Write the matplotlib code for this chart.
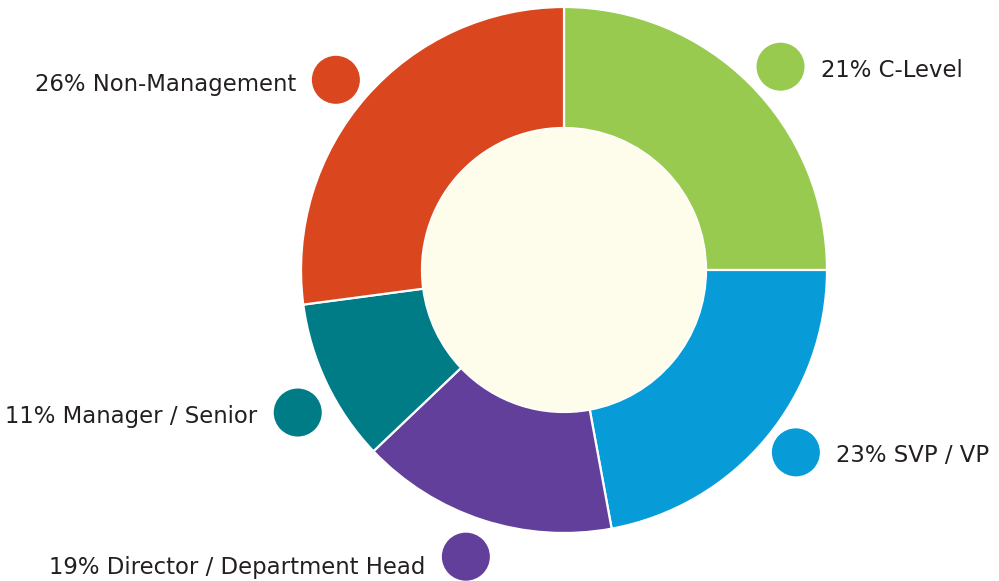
import numpy as np
import matplotlib
matplotlib.use('Agg')
import matplotlib.pyplot as plt
from matplotlib.patches import Circle

# slices, clockwise from 12 o'clock
groups = ['C-Level', 'SVP / VP', 'Director / Department Head', 'Manager / Senior', 'Non-Management']
label_pct = [21, 23, 19, 11, 26]
# share of the ring each slice takes in the drawing
slice_share = [25.0, 22.1, 15.8, 10.0, 27.1]
colors = ['#97ca4f', '#079bd8', '#623f9a', '#007c87', '#da461e']

W, H = 999, 581
cx, cy = 564, H - 270
R, r_in = 263, 142
dot_r = 24
text_gap = 40
# dot placement: distance from centre and angle nudge (deg, clockwise on screen) off slice middle
dot_dist = [297, 295, 303, 302, 297]
dot_nudge = [1.8, -1.6, 0.9, -2.6, -1.4]
# baseline of each label below its dot centre (px)
base_drop = [10.6, 10.0, 17.6, 10.6, 11.0]

fig = plt.figure(figsize=(W / 100, H / 100), dpi=100)
ax = fig.add_axes([0, 0, 1, 1])

wedges, _ = ax.pie(slice_share, colors=colors, startangle=90, counterclock=False,
                   radius=R, center=(cx, cy),
                   wedgeprops=dict(width=R - r_in, edgecolor='white', linewidth=1.6))
ax.add_patch(Circle((cx, cy), r_in - 0.5, facecolor='#fefceb', edgecolor='none', zorder=3))

for i, w in enumerate(wedges):
    mid = np.deg2rad((w.theta1 + w.theta2) / 2 - dot_nudge[i])
    dx = cx + dot_dist[i] * np.cos(mid)
    dy = cy + dot_dist[i] * np.sin(mid)
    ax.add_patch(Circle((dx, dy), dot_r, facecolor=colors[i], edgecolor='none', zorder=4))
    txt = '%d%% %s' % (label_pct[i], groups[i])
    if dx > cx:
        tx, ha = dx + text_gap, 'left'
    else:
        tx, ha = dx - text_gap, 'right'
    ax.text(tx, dy - base_drop[i], txt, ha=ha, va='baseline',
            fontsize=16.4, color='#231f20', family='DejaVu Sans')

ax.set_xlim(0, W)
ax.set_ylim(0, H)
ax.set_aspect('equal')
ax.axis('off')

fig.savefig('out.png', dpi=100)
